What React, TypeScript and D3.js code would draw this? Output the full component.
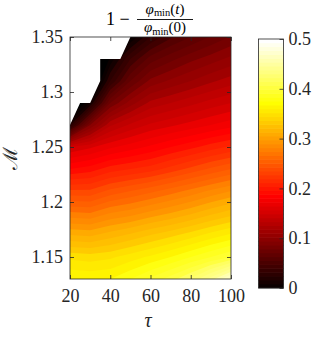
import React, { useRef, useEffect } from "react";
import * as d3 from "d3";

// grid of the field: tau across, Mach number up
const tau = [20, 30, 40, 50, 60, 70, 80, 90, 100];
const mach = [1.13, 1.15, 1.17, 1.19, 1.21, 1.23, 1.25, 1.27, 1.29, 1.31, 1.33, 1.35];

// 1 - phi_min(t)/phi_min(0), one row per Mach value (cells inside the blank area are estimates)
const m113 = [0.37, 0.368, 0.37, 0.38, 0.392, 0.405, 0.422, 0.445, 0.475];
const m115 = [0.347, 0.345, 0.348, 0.355, 0.362, 0.37, 0.38, 0.39, 0.4];
const m117 = [0.31, 0.308, 0.315, 0.322, 0.33, 0.337, 0.345, 0.354, 0.362];
const m119 = [0.272, 0.27, 0.28, 0.285, 0.293, 0.3, 0.308, 0.317, 0.325];
const m121 = [0.232, 0.232, 0.243, 0.25, 0.257, 0.265, 0.273, 0.282, 0.29];
const m123 = [0.19, 0.195, 0.205, 0.21, 0.215, 0.224, 0.233, 0.242, 0.25];
const m125 = [0.15, 0.158, 0.168, 0.175, 0.182, 0.19, 0.197, 0.205, 0.212];
const m127 = [0.02, 0.09, 0.128, 0.142, 0.152, 0.158, 0.164, 0.17, 0.176];
const m129 = [-0.03, 0.01, 0.08, 0.105, 0.123, 0.13, 0.137, 0.144, 0.15];
const m131 = [-0.05, -0.03, 0.03, 0.07, 0.093, 0.102, 0.11, 0.118, 0.125];
const m133 = [-0.07, -0.05, 0.003, 0.04, 0.065, 0.077, 0.087, 0.095, 0.103];
const m135 = [-0.09, -0.07, -0.03, 0.0, 0.03, 0.048, 0.06, 0.071, 0.081];
const grid = [m113, m115, m117, m119, m121, m123, m125, m127, m129, m131, m133, m135];

// edge of the region with no data (top left)
const maskTau = [20, 25, 30, 35, 35, 45, 50];
const maskMach = [1.27, 1.29, 1.29, 1.31, 1.33, 1.33, 1.35];

const xTicks = [20, 40, 60, 80, 100];
const yTicks = [1.15, 1.2, 1.25, 1.3, 1.35];
const cbTicks = [0, 0.1, 0.2, 0.3, 0.4, 0.5];

const ink = "#262626";
const serif = "'Liberation Serif', 'Times New Roman', Times, serif";

// MATLAB hot(64) over caxis [0, 0.5]
const hot = (v: number) => {
  const n = 64;
  const t = Math.max(0, Math.min(1, v / 0.5));
  const k = Math.max(1, Math.min(n, Math.floor(t * n) + 1));
  const c = (a: number) => Math.max(0, Math.min(1, a));
  const r = c(k / 24);
  const g = c((k - 24) / 24);
  const b = c((k - 48) / 16);
  return d3.rgb(r * 255, g * 255, b * 255).formatHex();
};

const App = () => {
  const ref = useRef<SVGSVGElement>(null);

  useEffect(() => {
    const svg = d3.select(ref.current);
    svg.selectAll("*").remove();

    const x = d3.scaleLinear().domain([20, 100]).range([70, 231]);
    const y = d3.scaleLinear().domain([1.13, 1.35]).range([279, 37]);

    svg
      .append("defs")
      .append("clipPath")
      .attr("id", "plotclip")
      .append("rect")
      .attr("x", 70)
      .attr("y", 37)
      .attr("width", 161)
      .attr("height", 242);

    // filled contours
    const values = grid.flat();
    const levels = [-1, ...d3.range(0, 0.5, 0.01)];
    const contours = d3
      .contours()
      .size([tau.length, mach.length])
      .thresholds(levels)(values);

    const gx = d3
      .scaleLinear()
      .domain([0.5, tau.length - 0.5])
      .range([x(tau[0]), x(tau[tau.length - 1])]);
    const gy = d3
      .scaleLinear()
      .domain([0.5, mach.length - 0.5])
      .range([y(mach[0]), y(mach[mach.length - 1])]);
    const path = d3.geoPath(
      d3.geoTransform({
        point(px: number, py: number) {
          this.stream.point(gx(px), gy(py));
        },
      })
    );

    const plot = svg.append("g").attr("clip-path", "url(#plotclip)");
    plot
      .selectAll("path")
      .data(contours)
      .join("path")
      .attr("d", path as any)
      .attr("fill", (d) => (d.value < 0 ? "#000000" : hot(d.value + 0.005)))
      .attr("stroke", "none");

    // blank area
    const maskPts: [number, number][] = maskTau.map((t, i) => [x(t), y(maskMach[i])]);
    maskPts.push([x(x.domain()[0]), y(y.domain()[1])]);
    plot
      .append("path")
      .attr("d", d3.line()(maskPts) + "Z")
      .attr("fill", "#ffffff");

    // axes
    const styleAxis = (g: any) => {
      g.attr("font-family", null).attr("font-size", null);
      g.select(".domain").remove();
      g.selectAll(".tick line").attr("stroke", ink).attr("stroke-width", 0.8);
      g.selectAll(".tick text")
        .attr("fill", ink)
        .style("font-family", serif)
        .style("font-size", "18px");
    };

    svg
      .append("g")
      .attr("transform", "translate(0,279)")
      .call(d3.axisBottom(x).tickValues(xTicks).tickSize(-4).tickPadding(10).tickFormat((d) => String(d)))
      .call(styleAxis);
    svg
      .append("g")
      .attr("transform", "translate(0,37)")
      .call(d3.axisTop(x).tickValues(xTicks).tickSize(-4).tickFormat(() => ""))
      .call(styleAxis);
    svg
      .append("g")
      .attr("transform", "translate(70,0)")
      .call(d3.axisLeft(y).tickValues(yTicks).tickSize(-4).tickPadding(7).tickFormat((d) => String(d)))
      .call(styleAxis);
    svg
      .append("g")
      .attr("transform", "translate(231,0)")
      .call(d3.axisRight(y).tickValues(yTicks).tickSize(-4).tickFormat(() => ""))
      .call(styleAxis);

    svg
      .append("rect")
      .attr("x", 70)
      .attr("y", 37)
      .attr("width", 161)
      .attr("height", 242)
      .attr("fill", "none")
      .attr("stroke", ink)
      .attr("stroke-width", 0.8);

    // colorbar
    const cb = d3.scaleLinear().domain([0, 0.5]).range([288, 39]);
    const steps = d3.range(64);
    svg
      .append("g")
      .selectAll("rect")
      .data(steps)
      .join("rect")
      .attr("x", 258.5)
      .attr("width", 25)
      .attr("y", (k) => cb((k + 1) / 128) - 0.3)
      .attr("height", cb(0) - cb(1 / 128) + 0.6)
      .attr("fill", (k) => hot((k + 0.5) / 128));
    svg
      .append("g")
      .attr("transform", "translate(283.5,0)")
      .call(d3.axisRight(cb).tickValues(cbTicks).tickSize(-4).tickPadding(5).tickFormat((d) => String(d)))
      .call(styleAxis);
    svg
      .append("rect")
      .attr("x", 258.5)
      .attr("y", 39)
      .attr("width", 25)
      .attr("height", 249)
      .attr("fill", "none")
      .attr("stroke", ink)
      .attr("stroke-width", 0.8);

    // title
    const title = svg.append("g").attr("fill", "#000").style("font-family", serif);
    title
      .append("text")
      .attr("x", 106)
      .attr("y", 24.5)
      .style("font-size", "18px")
      .text("1 \u2212");
    const frac = (yy: number, arg: string, italic: boolean) => {
      const t = title
        .append("text")
        .attr("x", 165)
        .attr("y", yy)
        .attr("text-anchor", "middle")
        .style("font-size", "15px");
      t.append("tspan").style("font-style", "italic").text("\u03c6");
      t.append("tspan").style("font-size", "10.5px").attr("dy", 2.5).text("min");
      t.append("tspan").attr("dy", -2.5).text("(");
      t.append("tspan").style("font-style", italic ? "italic" : "normal").text(arg);
      t.append("tspan").text(")");
    };
    frac(13.5, "t", true);
    title
      .append("line")
      .attr("x1", 137)
      .attr("x2", 193)
      .attr("y1", 19.5)
      .attr("y2", 19.5)
      .attr("stroke", "#000")
      .attr("stroke-width", 0.9);
    frac(32, "0", false);

    // axis labels
    svg
      .append("text")
      .attr("x", 148)
      .attr("y", 327)
      .attr("text-anchor", "middle")
      .style("font-family", serif)
      .style("font-style", "italic")
      .style("font-size", "20px")
      .attr("fill", ink)
      .text("\u03c4");
    svg
      .append("text")
      .attr("transform", "translate(17,158) rotate(-90)")
      .attr("text-anchor", "middle")
      .style("font-family", serif)
      .style("font-size", "20px")
      .attr("fill", ink)
      .text("\u2133");
  }, []);

  return (
    <svg
      ref={ref}
      width={332}
      height={337}
      style={{ position: "absolute", left: 0, top: 0, background: "#fff" }}
    />
  );
};

export default App;
